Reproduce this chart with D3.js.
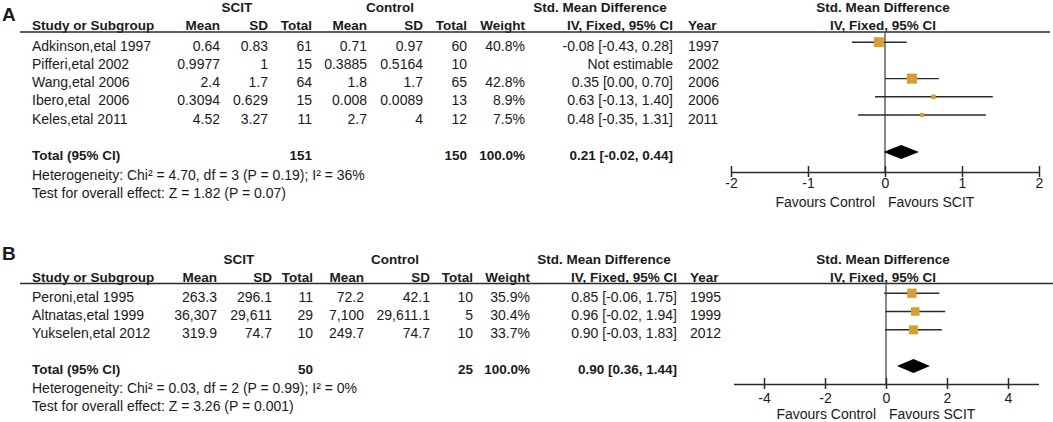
<!DOCTYPE html>
<html><head><meta charset="utf-8">
<script src="https://cdn.jsdelivr.net/npm/d3@7"></script>
<style>
html,body{margin:0;padding:0;background:#fff;}
svg{display:block;font-family:"Liberation Sans",Arial,sans-serif;}
text{fill:#1a1a1a;white-space:pre;}
.b{font-weight:bold;}
</style></head><body>
<svg id="c" width="1053" height="422"></svg>
<script>
// ---------- Panel A data ----------
const studiesA = ["Adkinson,etal 1997","Pifferi,etal 2002","Wang,etal 2006","Ibero,etal  2006","Keles,etal 2011"];
const scitMeanA = ["0.64","0.9977","2.4","0.3094","4.52"];
const scitSDA = ["0.83","1","1.7","0.629","3.27"];
const scitTotalA = [61,15,64,15,11];
const ctlMeanA = ["0.71","0.3885","1.8","0.008","2.7"];
const ctlSDA = ["0.97","0.5164","1.7","0.0089","4"];
const ctlTotalA = [60,10,65,13,12];
const weightA = [40.8,null,42.8,8.9,7.5];
const smdA = [-0.08,null,0.35,0.63,0.48];
const lowerA = [-0.43,null,0.00,-0.13,-0.35];
const upperA = [0.28,null,0.70,1.40,1.31];
const yearA = ["1997","2002","2006","2006","2011"];
const totalA = {scit:151, ctl:150, smd:0.21, lo:-0.02, hi:0.44};
const hetA = "Heterogeneity: Chi² = 4.70, df = 3 (P = 0.19); I² = 36%";
const testA = "Test for overall effect: Z = 1.82 (P = 0.07)";
const ticksA = [-2,-1,0,1,2];
const domainA = [-2,2];

// ---------- Panel B data ----------
const studiesB = ["Peroni,etal 1995","Altnatas,etal 1999","Yukselen,etal 2012"];
const scitMeanB = ["263.3","36,307","319.9"];
const scitSDB = ["296.1","29,611","74.7"];
const scitTotalB = [11,29,10];
const ctlMeanB = ["72.2","7,100","249.7"];
const ctlSDB = ["42.1","29,611.1","74.7"];
const ctlTotalB = [10,5,10];
const weightB = [35.9,30.4,33.7];
const smdB = [0.85,0.96,0.90];
const lowerB = [-0.06,-0.02,-0.03];
const upperB = [1.75,1.94,1.83];
const yearB = ["1995","1999","2012"];
const totalB = {scit:50, ctl:25, smd:0.90, lo:0.36, hi:1.44};
const hetB = "Heterogeneity: Chi² = 0.03, df = 2 (P = 0.99); I² = 0%";
const testB = "Test for overall effect: Z = 3.26 (P = 0.001)";
const ticksB = [-4,-2,0,2,4];
const domainB = [-5,5];

const svg = d3.select("#c");
const f2 = d3.format(".2f");
const hy = s => s.replace(/\u2212/g,"-");
const fmtCI = (m,l,u) => hy(`${f2(m)} [${f2(l)}, ${f2(u)}]`);

function panel(cfg){
  const g = svg.append("g");
  const n = cfg.studies.length;
  const C = cfg.cols;
  g.append("text").attr("class","b").attr("x",2).attr("y",cfg.letterY)
    .style("font-size","19px").text(cfg.letter);
  const h1 = cfg.h1Y, h2 = cfg.h2Y;
  const hdr = (x,y,t,anchor)=>g.append("text").attr("class","b").attr("x",x).attr("y",y)
      .attr("text-anchor",anchor).style("font-size","13.5px").text(t);
  hdr(C.scitC,h1,"SCIT","middle");
  hdr(C.ctlC,h1,"Control","middle");
  hdr(C.smdC,h1,"Std. Mean Difference","middle");
  hdr(883,h1,"Std. Mean Difference","middle");
  hdr(32,h2,"Study or Subgroup","start");
  hdr(C.sm,h2,"Mean","end");
  hdr(C.ss,h2,"SD","end");
  hdr(C.st,h2,"Total","end");
  hdr(C.cm,h2,"Mean","end");
  hdr(C.cs,h2,"SD","end");
  hdr(C.ct,h2,"Total","end");
  hdr(C.w,h2,"Weight","end");
  hdr(C.ci,h2,"IV, Fixed, 95% CI","end");
  hdr(C.yr,h2,"Year","start");
  hdr(883,h2,"IV, Fixed, 95% CI","middle");
  g.append("line").attr("x1",20).attr("x2",cfg.ruleEnd).attr("y1",cfg.ruleY).attr("y2",cfg.ruleY)
    .attr("stroke","#2a2a2a").attr("stroke-width",1.5);

  const rowY = d3.scaleLinear().domain([0,1]).range([cfg.row0,cfg.row0+cfg.rowH]);
  const txt = (x,y,t,anchor,bold)=>g.append("text").attr("x",x).attr("y",y)
      .attr("text-anchor",anchor).attr("class",bold?"b":null)
      .style("font-size",bold?"13.5px":"14px").text(t);
  for(let i=0;i<n;i++){
    const y = rowY(i);
    txt(32,y,cfg.studies[i],"start");
    txt(C.sm,y,cfg.scitMean[i],"end");
    txt(C.ss,y,cfg.scitSD[i],"end");
    txt(C.st,y,cfg.scitTotal[i],"end");
    txt(C.cm,y,cfg.ctlMean[i],"end");
    txt(C.cs,y,cfg.ctlSD[i],"end");
    txt(C.ct,y,cfg.ctlTotal[i],"end");
    if(cfg.weight[i]!=null) txt(C.w,y,cfg.weight[i].toFixed(1)+"%","end");
    txt(C.ci,y,cfg.smd[i]==null?"Not estimable":fmtCI(cfg.smd[i],cfg.lower[i],cfg.upper[i]),"end");
    txt(C.yr,y,cfg.year[i],"start");
  }
  const T = cfg.total;
  txt(32,cfg.totY,"Total (95% CI)","start",true);
  txt(C.st,cfg.totY,T.scit,"end",true);
  txt(C.ct,cfg.totY,T.ctl,"end",true);
  txt(C.w,cfg.totY,"100.0%","end",true);
  txt(C.ci,cfg.totY,fmtCI(T.smd,T.lo,T.hi),"end",true);
  txt(32,cfg.hetY,cfg.het,"start");
  txt(32,cfg.testY,cfg.test,"start");

  const x = d3.scaleLinear().domain(cfg.domain).range(cfg.xRange);
  const size = d3.scaleSqrt().domain([0,100]).range([0,15.5]);
  g.append("line").attr("x1",x(0)).attr("x2",x(0)).attr("y1",cfg.ruleY).attr("y2",cfg.axisY)
    .attr("stroke","#555").attr("stroke-width",1.4);
  for(let i=0;i<n;i++){
    if(cfg.smd[i]==null) continue;
    const y = rowY(i)-8.5;
    g.append("line").attr("x1",x(cfg.lower[i])).attr("x2",x(cfg.upper[i])).attr("y1",y).attr("y2",y)
      .attr("stroke","#2a2a2a").attr("stroke-width",1.4);
    const s = size(cfg.weight[i]);
    g.append("rect").attr("x",x(cfg.smd[i])-s/2).attr("y",y-s/2).attr("width",s).attr("height",s)
      .attr("fill","#D6A030");
  }
  const dy = cfg.totY-8, hh = 7;
  g.append("path").attr("d",`M${x(T.lo)},${dy}L${x(T.smd)},${dy-hh}L${x(T.hi)},${dy}L${x(T.smd)},${dy+hh}Z`)
    .attr("fill","#000");
  const ax = g.append("g").attr("transform",`translate(0,${cfg.axisY})`)
    .call(d3.axisBottom(x).tickValues(cfg.ticks).tickFormat(d=>String(d)).tickSizeOuter(0).tickSizeInner(5));
  ax.select(".domain").attr("stroke","#2a2a2a").attr("stroke-width",1.5);
  ax.selectAll(".tick line").attr("y1",-6).attr("y2",5).attr("stroke","#2a2a2a").attr("stroke-width",1.5);
  ax.selectAll(".tick text").attr("y",cfg.tickDY).attr("dy",0).style("font-size","14px")
    .style("font-family","'Liberation Sans',Arial,sans-serif").attr("fill","#1a1a1a");
  g.append("text").attr("x",x(0)-10).attr("y",cfg.favY).attr("text-anchor","end").style("font-size","14px").text("Favours Control");
  g.append("text").attr("x",x(0)+3).attr("y",cfg.favY).attr("text-anchor","start").style("font-size","14px").text("Favours SCIT");
}

panel({letter:"A",letterY:21,h1Y:12,h2Y:30,ruleY:32,ruleEnd:1050,row0:50.7,rowH:18.2,totY:160,hetY:180,testY:198,
  studies:studiesA,scitMean:scitMeanA,scitSD:scitSDA,scitTotal:scitTotalA,ctlMean:ctlMeanA,ctlSD:ctlSDA,ctlTotal:ctlTotalA,
  weight:weightA,smd:smdA,lower:lowerA,upper:upperA,year:yearA,total:totalA,het:hetA,test:testA,
  ticks:ticksA,domain:domainA,xRange:[731,1039],axisY:172,tickDY:16,favY:207,
  cols:{scitC:237,ctlC:390,smdC:600,sm:220,ss:268,st:312,cm:367,cs:423,ct:467,w:525,ci:673,yr:688}});

panel({letter:"B",letterY:260,h1Y:264,h2Y:282,ruleY:283.5,ruleEnd:1053,row0:301.7,rowH:18.3,totY:374,hetY:393,testY:411,
  studies:studiesB,scitMean:scitMeanB,scitSD:scitSDB,scitTotal:scitTotalB,ctlMean:ctlMeanB,ctlSD:ctlSDB,ctlTotal:ctlTotalB,
  weight:weightB,smd:smdB,lower:lowerB,upper:upperB,year:yearB,total:totalB,het:hetB,test:testB,
  ticks:ticksB,domain:domainB,xRange:[733.5,1038.5],axisY:384,tickDY:19,favY:419,
  cols:{scitC:239,ctlC:395,smdC:604,sm:217,ss:272,st:313,cm:364,cs:430,ct:473,w:530,ci:677,yr:690}});
</script>
</body></html>
